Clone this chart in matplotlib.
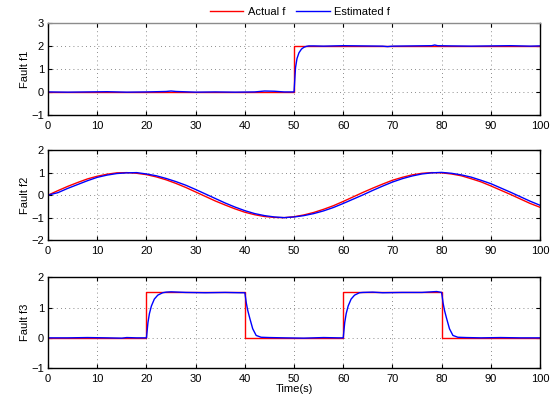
import matplotlib
matplotlib.use('Agg')
import matplotlib.pyplot as plt

plt.rcParams['font.family'] = ['Liberation Sans', 'DejaVu Sans']
plt.rcParams['font.size'] = 8

# fault f1: step at t = 50
t1_act = [0, 50, 50, 100]
f1_act = [0, 0, 2, 2]
t1_est = [0, 4, 8, 12, 16, 20, 24, 25, 26, 30, 34, 38, 42, 44, 46, 48, 50,
          50.3, 50.6, 51.0, 51.5, 52.0, 52.5, 53.0, 54, 56, 60, 64, 68, 69,
          70, 74, 78, 78.6, 79.2, 82, 86, 90, 94, 98, 100]
f1_est = [0.0, -0.01, 0.0, 0.01, -0.01, 0.0, 0.02, 0.04, 0.02, -0.01, 0.0,
          -0.01, 0.0, 0.04, 0.03, 0.0, 0.0,
          1.05, 1.45, 1.7, 1.86, 1.94, 1.98, 2.0, 2.0, 1.99, 2.01, 2.0, 1.99,
          1.97, 1.99, 2.0, 2.01, 2.04, 2.01, 2.0, 1.99, 2.0, 2.01, 1.99, 2.0]

# fault f2: slow sinusoid
t2 = [0, 2, 4, 6, 8, 10, 12, 14, 16, 18, 20, 22, 24, 26, 28, 30, 32, 34, 36,
      38, 40, 42, 44, 46, 48, 50, 52, 54, 56, 58, 60, 62, 64, 66, 68, 70, 72,
      74, 76, 78, 80, 82, 84, 86, 88, 90, 92, 94, 96, 98, 100]
f2_act = [0.00, 0.20, 0.39, 0.56, 0.72, 0.84, 0.93, 0.99, 1.00, 0.97,
          0.91, 0.81, 0.68, 0.52, 0.34, 0.14, -0.06, -0.26, -0.44, -0.61,
          -0.76, -0.87, -0.95, -0.99, -1.00, -0.96, -0.88, -0.77, -0.63, -0.47,
          -0.28, -0.08, 0.12, 0.31, 0.49, 0.66, 0.79, 0.90, 0.97, 1.00,
          0.99, 0.94, 0.86, 0.73, 0.59, 0.41, 0.22, 0.03, -0.17, -0.37,
          -0.54]
f2_est = [0.00, 0.11, 0.30, 0.47, 0.64, 0.79, 0.89, 0.96, 0.99, 1.00,
          0.94, 0.86, 0.74, 0.60, 0.44, 0.25, 0.05, -0.15, -0.35, -0.53,
          -0.69, -0.82, -0.91, -0.97, -1.00, -0.97, -0.91, -0.82, -0.70, -0.55,
          -0.37, -0.18, 0.01, 0.21, 0.40, 0.58, 0.73, 0.85, 0.94, 0.99,
          1.01, 0.97, 0.90, 0.80, 0.66, 0.51, 0.32, 0.13, -0.07, -0.27,
          -0.45]

# fault f3: two rectangular pulses
t3_act = [0, 20, 20, 40, 40, 60, 60, 80, 80, 100]
f3_act = [0, 0, 1.5, 1.5, 0, 0, 1.5, 1.5, 0, 0]
t3_est = [0, 4, 8, 12, 15, 16, 18, 20, 20.3, 20.6, 21.0, 21.6, 22.3, 23.3,
          24, 25, 28, 32, 36, 39, 40, 40.3, 40.6, 41.0, 41.6, 42.3, 43.3, 45,
          48, 52, 56, 59, 60, 60.3, 60.6, 61.0, 61.6, 62.3, 63.3, 64, 66, 68,
          72, 76, 78, 79, 80, 80.3, 80.6, 81.0, 81.6, 82.3, 83.3, 85, 88, 92,
          96, 100]
f3_est = [0.0, 0.0, 0.01, 0.0, -0.01, 0.01, 0.0, 0.0, 0.5, 0.8, 1.05, 1.28,
          1.41, 1.49, 1.51, 1.52, 1.5, 1.49, 1.5, 1.49, 1.49, 1.15, 0.9, 0.65,
          0.3, 0.08, 0.02, 0.01, 0.0, -0.01, 0.01, 0.0, 0.0, 0.5, 0.8, 1.05,
          1.28, 1.41, 1.49, 1.5, 1.51, 1.49, 1.5, 1.5, 1.52, 1.53, 1.5, 1.15,
          0.9, 0.65, 0.3, 0.08, 0.02, 0.01, 0.0, 0.01, 0.0, 0.0]

panels = [
    (t1_act, f1_act, t1_est, f1_est, 'Fault f1', (-1, 3), [-1, 0, 1, 2, 3]),
    (t2, f2_act, t2, f2_est, 'Fault f2', (-2, 2), [-2, -1, 0, 1, 2]),
    (t3_act, f3_act, t3_est, f3_est, 'Fault f3', (-1, 2), [-1, 0, 1, 2]),
]

fig = plt.figure(figsize=(5.59, 3.95), dpi=100)
boxes = [[0.086, 0.709, 0.880, 0.233],
         [0.086, 0.392, 0.880, 0.228],
         [0.086, 0.068, 0.880, 0.230]]

axes = []
for box, (ta, fa, te, fe, ylab, ylim, yticks) in zip(boxes, panels):
    ax = fig.add_axes(box)
    ax.plot(ta, fa, color='red', lw=1.0, label='Actual f')
    ax.plot(te, fe, color='blue', lw=1.0, label='Estimated f')
    ax.set_xlim(0, 100)
    ax.set_ylim(*ylim)
    ax.set_xticks(range(0, 101, 10))
    ax.set_yticks(yticks)
    ax.set_yticklabels([str(v).replace('-', '\u2212') for v in yticks])
    ax.set_ylabel(ylab, labelpad=1)
    ax.grid(True, linestyle=(0, (1, 4)), color='0.4', lw=0.6)
    ax.tick_params(direction='in', top=True, right=True, length=3,
                   width=0.8, pad=3)
    ax.tick_params(axis='x', pad=4)
    for s in ax.spines.values():
        s.set_linewidth(1.0)
    axes.append(ax)

axes[0].spines['top'].set_color('0.55')
axes[2].set_xlabel('Time(s)', labelpad=0)

handles, labels = axes[0].get_legend_handles_labels()
fig.legend(handles, labels, ncol=2, loc='center',
           bbox_to_anchor=(300 / 559, 0.970), frameon=False,
           handlelength=3.0, handletextpad=0.4, columnspacing=1.0,
           fontsize=8)

fig.savefig('out.png', dpi=100)
